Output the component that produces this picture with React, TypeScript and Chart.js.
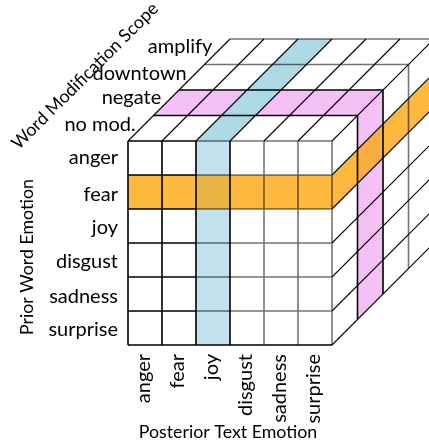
import React, { useEffect, useRef } from "react";
import { Chart, registerables } from "chart.js";

Chart.register(...registerables);

// ---------- data ----------
const posteriorEmotions = ["anger", "fear", "joy", "disgust", "sadness", "surprise"];
const priorEmotions = ["anger", "fear", "joy", "disgust", "sadness", "surprise"];
const modificationScopes = ["no mod.", "negate", "downtown", "amplify"];
const highlightedPosterior = "joy";
const highlightedPrior = "fear";
const highlightedScope = "negate";
const xAxisTitle = "Posterior Text Emotion";
const yAxisTitle = "Prior Word Emotion";
const zAxisTitle = "Word Modification Scope";

// ---------- layout / style ----------
const W = 429;
const H = 442;
const CELL = 34; // px per cube unit
const ORIGIN_X = 128; // px of front-bottom-left corner
const ORIGIN_Y = 345;
const DEPTH = 0.75; // oblique projection factor
const FONT = 'Lato, "DejaVu Sans", sans-serif';
const LABEL_SIZE = 20;
const TITLE_SIZE = 17.8;

const ORANGE = "rgb(253,185,62)";
const BLUE_TOP = "rgb(173,216,230)";
const BLUE_FRONT = "rgb(193,226,236)";
const PINK = "rgb(245,192,245)";
const INTER_FRONT = "rgb(235,181,67)";
const INTER_RIGHT = "rgb(251,173,63)";
const GRAY_LINE = "rgba(0,0,0,0.55)";
const BLACK_LINE = "#000";

const nCols = posteriorEmotions.length;
const nRows = priorEmotions.length;
const nDepth = modificationScopes.length;

type Pt = { x: number | null; y: number | null };

// cube coords: c = column (left->right), r = row (top->bottom), d = depth (front->back)
const project = (c: number, r: number, d: number): Pt => ({
  x: c + DEPTH * d,
  y: nRows - r + DEPTH * d,
});
const front = (c: number, r: number) => project(c, r, 0);
const top = (c: number, d: number) => project(c, 0, d);
const right = (r: number, d: number) => project(nCols, r, d);

const frontQuad = (c0: number, c1: number, r0: number, r1: number) => [
  front(c0, r0), front(c1, r0), front(c1, r1), front(c0, r1), front(c0, r0),
];
const topQuad = (c0: number, c1: number, d0: number, d1: number) => [
  top(c0, d0), top(c1, d0), top(c1, d1), top(c0, d1), top(c0, d0),
];
const rightQuad = (r0: number, r1: number, d0: number, d1: number) => [
  right(r0, d0), right(r1, d0), right(r1, d1), right(r0, d1), right(r0, d0),
];

const GAP: Pt = { x: null, y: null };
const segs = (list: Pt[][]) => {
  const out: Pt[] = [];
  list.forEach((s) => { out.push(s[0], s[1], GAP); });
  return out;
};
const range = (a: number, b: number) => {
  const o: number[] = [];
  for (let i = a; i <= b; i++) o.push(i);
  return o;
};

function buildDatasets() {
  const ci = posteriorEmotions.indexOf(highlightedPosterior);
  const ri = priorEmotions.indexOf(highlightedPrior);
  const di = modificationScopes.indexOf(highlightedScope);

  const fills: [Pt[], string][] = [
    [topQuad(0, nCols, di, di + 1), PINK],
    [rightQuad(0, nRows, di, di + 1), PINK],
    [topQuad(ci, ci + 1, 0, nDepth), BLUE_TOP],
    [frontQuad(ci, ci + 1, 0, nRows), BLUE_FRONT],
    [frontQuad(0, nCols, ri, ri + 1), ORANGE],
    [rightQuad(ri, ri + 1, 0, nDepth), ORANGE],
    [frontQuad(ci, ci + 1, ri, ri + 1), INTER_FRONT],
    [rightQuad(ri, ri + 1, di, di + 1), INTER_RIGHT],
  ];

  // gray grid lines
  const gray: Pt[][] = [];
  range(0, nRows - 1).forEach((r) => gray.push([front(ci, r), front(nCols, r)]));
  range(ci + 2, nCols).forEach((c) => gray.push([front(c, 0), front(c, nRows)]));
  [nDepth - 1, nDepth].forEach((d) => gray.push([top(0, d), top(nCols, d)]));
  [nDepth - 1, nDepth].forEach((d) => gray.push([right(0, d), right(nRows, d)]));

  // black thick lines
  const black: Pt[][] = [];
  range(0, nRows - 1).forEach((r) => black.push([front(0, r), front(ci, r)]));
  black.push([front(0, nRows), front(nCols, nRows)]);
  range(0, ci + 1).forEach((c) => black.push([front(c, 0), front(c, nRows)]));
  [di, di + 1].forEach((d) => black.push([top(0, d), top(nCols, d)]));
  [di, di + 1].forEach((d) => black.push([right(0, d), right(nRows, d)]));

  // thin receding lines
  const thin: Pt[][] = [];
  range(0, nCols).forEach((c) => thin.push([top(c, 0), top(c, nDepth)]));
  range(0, nRows).forEach((r) => thin.push([right(r, 0), right(r, nDepth)]));

  const list: any[] = [];
  fills.forEach(([pts, color]) =>
    list.push({
      data: pts,
      showLine: true,
      fill: "shape",
      backgroundColor: color,
      borderColor: "rgba(0,0,0,0)",
      borderWidth: 0,
      pointRadius: 0,
    })
  );
  list.push({ data: segs(gray), showLine: true, fill: false, borderColor: GRAY_LINE, borderWidth: 1.6, pointRadius: 0 });
  list.push({ data: segs(black), showLine: true, fill: false, borderColor: BLACK_LINE, borderWidth: 1.6, pointRadius: 0 });
  list.push({ data: segs(thin), showLine: true, fill: false, borderColor: BLACK_LINE, borderWidth: 1.1, pointRadius: 0 });

  const n = list.length;
  return list.map((ds, i) => ({ ...ds, order: n - i, tension: 0, spanGaps: false, clip: false, pointHoverRadius: 0 }));
}

const labelPlugin = {
  id: "cubeLabels",
  afterDatasetsDraw(chart: any) {
    const ctx: CanvasRenderingContext2D = chart.ctx;
    const xs = chart.scales.x;
    const ys = chart.scales.y;
    const px = (p: Pt) => ({ x: xs.getPixelForValue(p.x), y: ys.getPixelForValue(p.y) });
    const boxBase = (text: string, centerY: number) => {
      const m = ctx.measureText(text);
      return centerY + (m.actualBoundingBoxAscent - m.actualBoundingBoxDescent) / 2;
    };
    ctx.save();
    ctx.fillStyle = "#000";
    ctx.font = `${LABEL_SIZE}px ${FONT}`;
    ctx.textBaseline = "alphabetic";

    // row labels (prior word emotion)
    ctx.textAlign = "right";
    priorEmotions.forEach((name, r) => {
      const p = px(front(0, r + 0.5));
      ctx.fillText(name, p.x - 10, boxBase(name, p.y + 2));
    });

    // depth labels (word modification scope)
    modificationScopes.forEach((name, d) => {
      const p = px(project(0, 0, d + 0.5));
      ctx.fillText(name, p.x - 5, boxBase(name, p.y - 4.2));
    });

    // column labels (posterior text emotion), rotated
    posteriorEmotions.forEach((name, c) => {
      const p = px(front(c + 0.5, nRows));
      ctx.save();
      ctx.translate(p.x + 5, p.y + 9);
      ctx.rotate(-Math.PI / 2);
      ctx.textAlign = "right";
      ctx.fillText(name, 0, 0);
      ctx.restore();
    });

    // axis titles
    ctx.font = `${TITLE_SIZE}px ${FONT}`;
    const fb = px(front(nCols / 2, nRows));
    ctx.textAlign = "center";
    ctx.textBaseline = "middle";
    ctx.fillText(xAxisTitle, fb.x - 2, fb.y + 87);

    const fl = px(front(0, nRows / 2));
    ctx.save();
    ctx.translate(fl.x - 95, fl.y + 14);
    ctx.rotate(-Math.PI / 2);
    ctx.textBaseline = "alphabetic";
    ctx.fillText(yAxisTitle, 0, 0);
    ctx.restore();

    const tl = px(front(0, 0));
    ctx.save();
    ctx.translate(tl.x - 39, tl.y - 61);
    ctx.rotate(-Math.PI / 4);
    ctx.textBaseline = "alphabetic";
    ctx.fillText(zAxisTitle, 0, 0);
    ctx.restore();

    ctx.restore();
  },
};

export default function App() {
  const canvasRef = useRef<HTMLCanvasElement | null>(null);

  useEffect(() => {
    document.body.style.margin = "0";
    document.body.style.overflow = "hidden";
    const canvas = canvasRef.current;
    if (!canvas) return;
    const chart = new Chart(canvas, {
      type: "scatter",
      data: { datasets: buildDatasets() },
      options: {
        responsive: false,
        animation: false,
        devicePixelRatio: 1,
        events: [],
        layout: { padding: 0 },
        scales: {
          x: { type: "linear", display: false, min: -ORIGIN_X / CELL, max: (W - ORIGIN_X) / CELL },
          y: { type: "linear", display: false, min: (ORIGIN_Y - H) / CELL, max: ORIGIN_Y / CELL },
        },
        plugins: {
          legend: { display: false },
          tooltip: { enabled: false },
        },
      } as any,
      plugins: [labelPlugin],
    });
    return () => chart.destroy();
  }, []);

  return (
    <div style={{ width: W, height: H, background: "#fff" }}>
      <canvas ref={canvasRef} width={W} height={H} style={{ display: "block" }} />
    </div>
  );
}
